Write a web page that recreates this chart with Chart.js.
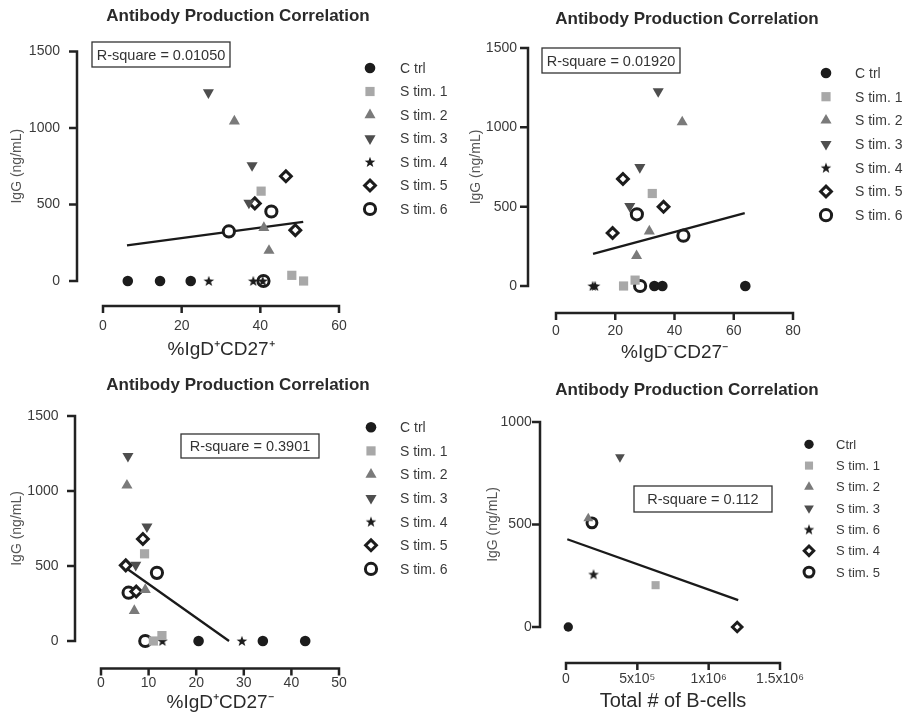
<!DOCTYPE html>
<html>
<head>
<meta charset="utf-8">
<title>Antibody Production Correlation</title>
<script src="https://cdn.jsdelivr.net/npm/chart.js@4.4.0/dist/chart.umd.min.js"></script>
<style>
  body { margin: 0; background: #fff; }
  #wrap { position: relative; width: 906px; height: 714px; overflow: hidden; }
  canvas { position: absolute; }
</style>
</head>
<body>
<div id="wrap">
  <canvas id="c1" width="476" height="365" style="left:0;top:0"></canvas>
  <canvas id="c2" width="438" height="365" style="left:468px;top:0"></canvas>
  <canvas id="c3" width="476" height="349" style="left:0;top:365px"></canvas>
  <canvas id="c4" width="438" height="349" style="left:468px;top:365px"></canvas>
</div>
<script>
// --- data ---
const chartTitle = 'Antibody Production Correlation';
const yTitle = 'IgG (ng/mL)';
const groupLabels = ['C trl', 'S tim. 1', 'S tim. 2', 'S tim. 3', 'S tim. 4', 'S tim. 5', 'S tim. 6'];
const groupLabels4 = ['Ctrl', 'S tim. 1', 'S tim. 2', 'S tim. 3', 'S tim. 6', 'S tim. 4', 'S tim. 5'];
const yTicks = [0, 500, 1000, 1500];
const yTicks4 = [0, 500, 1000];

// %IgD+CD27+
const p1Ctrl = [[6.3, 0], [14.5, 0], [22.3, 0]];
const p1Stim1 = [[40.2, 587], [48.0, 37], [51.0, 0]];
const p1Stim2 = [[33.4, 1044], [40.9, 348], [42.2, 199]];
const p1Stim3 = [[26.8, 1231], [37.9, 755], [37.1, 510]];
const p1Stim4 = [[26.9, 0], [38.2, 0], [40.6, 0]];
const p1Stim5 = [[46.5, 684], [38.6, 507], [48.9, 332]];
const p1Stim6 = [[32.0, 324], [42.8, 454], [40.8, 0]];
const p1Fit = [[6.1, 233], [50.9, 386]];
const p1XTicks = [0, 20, 40, 60];

// %IgD-CD27-
const p2Ctrl = [[33.2, 0], [35.9, 0], [63.9, 0]];
const p2Stim1 = [[32.5, 583], [26.7, 37], [22.8, 0]];
const p2Stim2 = [[42.6, 1033], [31.5, 345], [27.2, 190]];
const p2Stim3 = [[34.5, 1226], [28.3, 748], [24.9, 503]];
const p2Stim4 = [[12.4, 0], [13.2, 0]];
const p2Stim5 = [[22.6, 675], [36.3, 499], [19.1, 334]];
const p2Stim6 = [[27.3, 452], [43.0, 317], [28.4, 0]];
const p2Fit = [[12.5, 202], [63.7, 459]];
const p2XTicks = [0, 20, 40, 60, 80];

// %IgD+CD27-
const p3Ctrl = [[20.5, 0], [34.0, 0], [42.9, 0]];
const p3Stim1 = [[9.15, 581], [12.8, 36], [11.0, 0]];
const p3Stim2 = [[5.45, 1037], [9.3, 342], [7.0, 202]];
const p3Stim3 = [[5.66, 1232], [9.65, 762], [7.3, 506]];
const p3Stim4 = [[29.6, 0], [12.9, 0]];
const p3Stim5 = [[8.8, 680], [5.2, 504], [7.4, 330]];
const p3Stim6 = [[11.75, 454], [5.8, 322], [9.3, 0]];
const p3Fit = [[4.5, 503], [26.9, 0]];
const p3XTicks = [0, 10, 20, 30, 40, 50];

// Total # of B-cells
const p4Ctrl = [[16000, 0]];
const p4Stim1 = [[628000, 204]];
const p4Stim2 = [[156000, 530]];
const p4Stim3 = [[378000, 829]];
const p4Stim6 = [[193000, 257]];
const p4Stim4 = [[1200000, 0]];
const p4Stim5 = [[182000, 508]];
const p4Fit = [[9000, 428], [1207000, 131]];
const p4XTicks = [0, 500000, 1000000, 1500000];
const p4XTickLabels = ['0', '5x10\u2075', '1x10\u2076', '1.5x10\u2076'];

// --- styles ---
const FONT = "'Liberation Sans', Arial, sans-serif";

function makeStar() {
  const c = document.createElement('canvas');
  c.width = 12; c.height = 12;
  const g = c.getContext('2d');
  g.fillStyle = '#1c1c1c';
  g.beginPath();
  for (let i = 0; i < 10; i++) {
    const r = i % 2 === 0 ? 5.6 : 2.3;
    const a = -Math.PI / 2 + i * Math.PI / 5;
    g.lineTo(6 + r * Math.cos(a), 6.4 + r * Math.sin(a));
  }
  g.closePath();
  g.fill();
  return c;
}
const starImg = makeStar();

const markers = [
  { style: 'circle', r: 5.3, bg: '#1c1c1c', border: '#1c1c1c', bw: 0 },
  { style: 'rect', r: 6.5, bg: '#a8a8a8', border: '#a8a8a8', bw: 0 },
  { style: 'triangle', r: 6.4, bg: '#7a7a7a', border: '#7a7a7a', bw: 0 },
  { style: 'triangle', rot: 180, r: 6.4, bg: '#4e4e4e', border: '#4e4e4e', bw: 0 },
  { style: starImg, r: 5, bg: '#1c1c1c', border: '#1c1c1c', bw: 0 },
  { style: 'rectRot', r: 5.4, bg: '#ffffff', border: '#1c1c1c', bw: 3 },
  { style: 'circle', r: 5.6, bg: '#ffffff', border: '#1c1c1c', bw: 3 }
];

// title, axis lines, legend and R-square box
const decorPlugin = {
  id: 'decor',
  afterDraw(chart, args, d) {
    const ctx = chart.ctx;
    const xs = chart.scales.x, ys = chart.scales.y;
    const area = chart.chartArea;
    ctx.save();

    // title
    ctx.fillStyle = '#2a2a2a';
    ctx.font = 'bold 17px ' + FONT;
    ctx.textAlign = 'center';
    ctx.textBaseline = 'middle';
    ctx.fillText(chartTitle, d.titleX, d.titleY);

    ctx.strokeStyle = '#222';
    ctx.lineWidth = 2.5;
    // y axis
    const ax = area.left - d.yGap;
    ctx.beginPath();
    ctx.moveTo(ax, ys.getPixelForValue(ys.max) - 1.25);
    ctx.lineTo(ax, ys.getPixelForValue(ys.min) + 1.25);
    ys.ticks.forEach(t => {
      const py = ys.getPixelForValue(t.value);
      ctx.moveTo(ax - 8, py);
      ctx.lineTo(ax, py);
    });
    // x axis
    const ay = area.bottom + d.xGap;
    ctx.moveTo(xs.getPixelForValue(xs.min) - 1.25, ay);
    ctx.lineTo(xs.getPixelForValue(xs.max) + 1.25, ay);
    xs.ticks.forEach(t => {
      const px = xs.getPixelForValue(t.value);
      ctx.moveTo(px, ay);
      ctx.lineTo(px, ay + 7);
    });
    ctx.stroke();

    // R-square box
    const [bx, by, bw, bh] = d.rBox;
    ctx.lineWidth = 1.3;
    ctx.strokeStyle = '#333';
    ctx.strokeRect(bx, by, bw, bh);
    ctx.fillStyle = '#333';
    ctx.font = '14.5px ' + FONT;
    ctx.fillText(d.rText, bx + bw / 2, by + bh / 2 + 1);

    // legend
    const lg = d.legend;
    ctx.font = lg.font + 'px ' + FONT;
    ctx.textAlign = 'left';
    chart.data.datasets.forEach((ds, i) => {
      if (ds.isFit) return;
      const y = lg.y0 + i * lg.step;
      ctx.fillStyle = ds.backgroundColor;
      ctx.strokeStyle = ds.borderColor;
      ctx.lineWidth = ds.pointBorderWidth;
      Chart.helpers.drawPoint(ctx, {
        pointStyle: ds.pointStyle,
        rotation: ds.pointRotation,
        radius: ds.pointRadius,
        borderWidth: ds.pointBorderWidth
      }, lg.sx, y);
      ctx.fillStyle = '#3a3a3a';
      ctx.fillText(ds.label, lg.tx, y + 1);
    });
    ctx.restore();
  }
};

function makePanel(id, p) {
  const datasets = p.groups.map((pts, i) => {
    const m = markers[i];
    return {
      label: p.labels[i],
      data: pts.map(([x, y]) => ({ x, y })),
      pointStyle: m.style,
      pointRotation: m.rot || 0,
      pointRadius: m.r * p.scale,
      backgroundColor: m.bg,
      borderColor: m.border,
      pointBorderWidth: m.bw,
      clip: false
    };
  });
  datasets.push({
    label: 'fit',
    isFit: true,
    data: p.fit.map(([x, y]) => ({ x, y })),
    showLine: true,
    pointRadius: 0,
    borderColor: '#1a1a1a',
    borderWidth: 2.3,
    clip: false
  });

  return new Chart(document.getElementById(id), {
    type: 'scatter',
    data: { datasets },
    options: {
      responsive: false,
      animation: false,
      events: [],
      devicePixelRatio: 1,
      layout: { padding: { left: 0, top: p.padTop, bottom: 0, right: p.padRight } },
      plugins: {
        legend: { display: false },
        tooltip: { enabled: false },
        title: { display: false },
        decor: p.decor
      },
      scales: {
        x: {
          type: 'linear',
          min: p.xTicks[0],
          max: p.xTicks[p.xTicks.length - 1],
          afterBuildTicks: s => { s.ticks = p.xTicks.map(v => ({ value: v })); },
          afterFit: s => { s.height = p.xHeight; },
          grid: { display: false, drawTicks: false },
          border: { display: false },
          ticks: {
            padding: p.xTickPad,
            color: '#3a3a3a',
            font: { family: FONT, size: 14 },
            maxRotation: 0,
            callback: (v, i) => p.xLabels ? p.xLabels[i] : String(v)
          },
          title: {
            display: true,
            text: p.xTitle,
            color: '#2a2a2a',
            font: { family: FONT, size: p.xTitleSize },
            padding: { top: 0, bottom: p.xTitlePad }
          }
        },
        y: {
          type: 'linear',
          min: p.yTicks[0],
          max: p.yTicks[p.yTicks.length - 1],
          afterBuildTicks: s => { s.ticks = p.yTicks.map(v => ({ value: v })); },
          afterFit: s => { s.width = p.yWidth; },
          grid: { display: false, drawTicks: false },
          border: { display: false },
          ticks: {
            padding: p.yTickPad,
            color: '#3a3a3a',
            font: { family: FONT, size: 14 },
            callback: v => String(v)
          },
          title: {
            display: true,
            text: yTitle,
            color: '#555',
            font: { family: FONT, size: 14 },
            padding: { top: p.yTitlePad, bottom: 0 }
          }
        }
      }
    },
    plugins: [decorPlugin]
  });
}

makePanel('c1', {
  groups: [p1Ctrl, p1Stim1, p1Stim2, p1Stim3, p1Stim4, p1Stim5, p1Stim6],
  labels: groupLabels, fit: p1Fit, scale: 1,
  xTicks: p1XTicks, yTicks: yTicks,
  xTitle: '%IgD\u207ACD27\u207A', xTitleSize: 19,
  padRight: 137, padTop: 45,
  yWidth: 103, yTickPad: 43, yTitlePad: 8.6,
  xHeight: 84, xTickPad: 37, xTitlePad: 3.6,
  decor: { titleX: 238, titleY: 16, yGap: 26, xGap: 25,
           rText: 'R-square = 0.01050', rBox: [92, 42, 138, 25],
           legend: { sx: 370, tx: 400, y0: 68, step: 23.5, font: 14 } }
});

makePanel('c2', {
  groups: [p2Ctrl, p2Stim1, p2Stim2, p2Stim3, p2Stim4, p2Stim5, p2Stim6],
  labels: groupLabels, fit: p2Fit, scale: 1,
  xTicks: p2XTicks, yTicks: yTicks,
  xTitle: '%IgD\u207BCD27\u207B', xTitleSize: 19,
  padRight: 113, padTop: 48,
  yWidth: 88, yTickPad: 39, yTitlePad: 0,
  xHeight: 79, xTickPad: 37, xTitlePad: 0.6,
  decor: { titleX: 219, titleY: 19, yGap: 28, xGap: 27,
           rText: 'R-square = 0.01920', rBox: [74, 48, 138, 25],
           legend: { sx: 358, tx: 387, y0: 73, step: 23.7, font: 14 } }
});

makePanel('c3', {
  groups: [p3Ctrl, p3Stim1, p3Stim2, p3Stim3, p3Stim4, p3Stim5, p3Stim6],
  labels: groupLabels, fit: p3Fit, scale: 1,
  xTicks: p3XTicks, yTicks: yTicks,
  xTitle: '%IgD\u207ACD27\u207B', xTitleSize: 19,
  padRight: 137, padTop: 37,
  yWidth: 101, yTickPad: 42.5, yTitlePad: 8.3,
  xHeight: 73, xTickPad: 34, xTitlePad: 0,
  decor: { titleX: 238, titleY: 20, yGap: 26, xGap: 27.5,
           rText: 'R-square = 0.3901', rBox: [181, 69, 138, 24],
           legend: { sx: 371, tx: 400, y0: 62.3, step: 23.6, font: 14 } }
});

makePanel('c4', {
  groups: [p4Ctrl, p4Stim1, p4Stim2, p4Stim3, p4Stim6, p4Stim4, p4Stim5],
  labels: groupLabels4, fit: p4Fit, scale: 0.88,
  xTicks: p4XTicks, xLabels: p4XTickLabels, yTicks: yTicks4,
  xTitle: 'Total # of B-cells', xTitleSize: 20,
  padRight: 126, padTop: 57,
  yWidth: 98, yTickPad: 34.3, yTitlePad: 16.9,
  xHeight: 87, xTickPad: 44, xTitlePad: 0.3,
  decor: { titleX: 219, titleY: 25.7, yGap: 26, xGap: 36,
           rText: 'R-square = 0.112', rBox: [166, 121, 138, 26],
           legend: { sx: 341, tx: 368, y0: 79.3, step: 21.3, font: 13 } }
});
</script>
</body>
</html>
